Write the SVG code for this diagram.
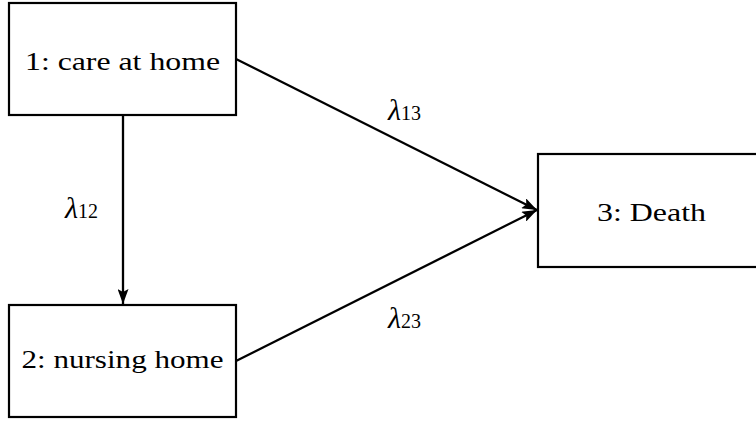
<svg xmlns="http://www.w3.org/2000/svg" width="756" height="424" viewBox="0 0 756 424">
<style>
.box{fill:#fff;stroke:#000;stroke-width:2.2}
.lbl{font-family:"Liberation Serif","DejaVu Serif",serif;font-size:25px;fill:#000;text-anchor:middle}
.lam{font-family:"Liberation Serif","DejaVu Serif",serif;font-size:30px;font-style:italic;fill:#000}
.sub{font-size:20px;font-style:normal}
.edge{stroke:#000;stroke-width:2.3;fill:none}
</style>
<defs>
<marker id="ah" viewBox="0 0 15 11" refX="15" refY="5.5" markerWidth="15" markerHeight="11" markerUnits="userSpaceOnUse" orient="auto">
<path d="M0,0 L15,5.5 L0,11 L3,5.5 Z" fill="#000"/>
</marker>
</defs>
<rect width="756" height="424" fill="#fff"/>
<g id="connectors">
<line class="edge" x1="123" y1="116" x2="123" y2="304" marker-end="url(#ah)"/>
<line class="edge" x1="236" y1="59" x2="537" y2="210" marker-end="url(#ah)"/>
<line class="edge" x1="236" y1="361" x2="537" y2="210" marker-end="url(#ah)"/>
<text class="lam" x="65" y="218">λ<tspan class="sub">12</tspan></text>
<text class="lam" x="388" y="120">λ<tspan class="sub">13</tspan></text>
<text class="lam" x="388" y="328">λ<tspan class="sub">23</tspan></text>
</g>
<g id="node1">
<rect class="box" x="9" y="3" width="227" height="112"/>
<text class="lbl" x="122.5" y="70" textLength="195" lengthAdjust="spacingAndGlyphs">1: care at home</text>
</g>
<g id="node2">
<rect class="box" x="9" y="305" width="227" height="112"/>
<text class="lbl" x="122.5" y="368" textLength="202" lengthAdjust="spacingAndGlyphs">2: nursing home</text>
</g>
<g id="node3">
<rect class="box" x="538" y="154" width="230" height="113"/>
<text class="lbl" x="651.5" y="221" textLength="109" lengthAdjust="spacingAndGlyphs">3: Death</text>
</g>
</svg>
